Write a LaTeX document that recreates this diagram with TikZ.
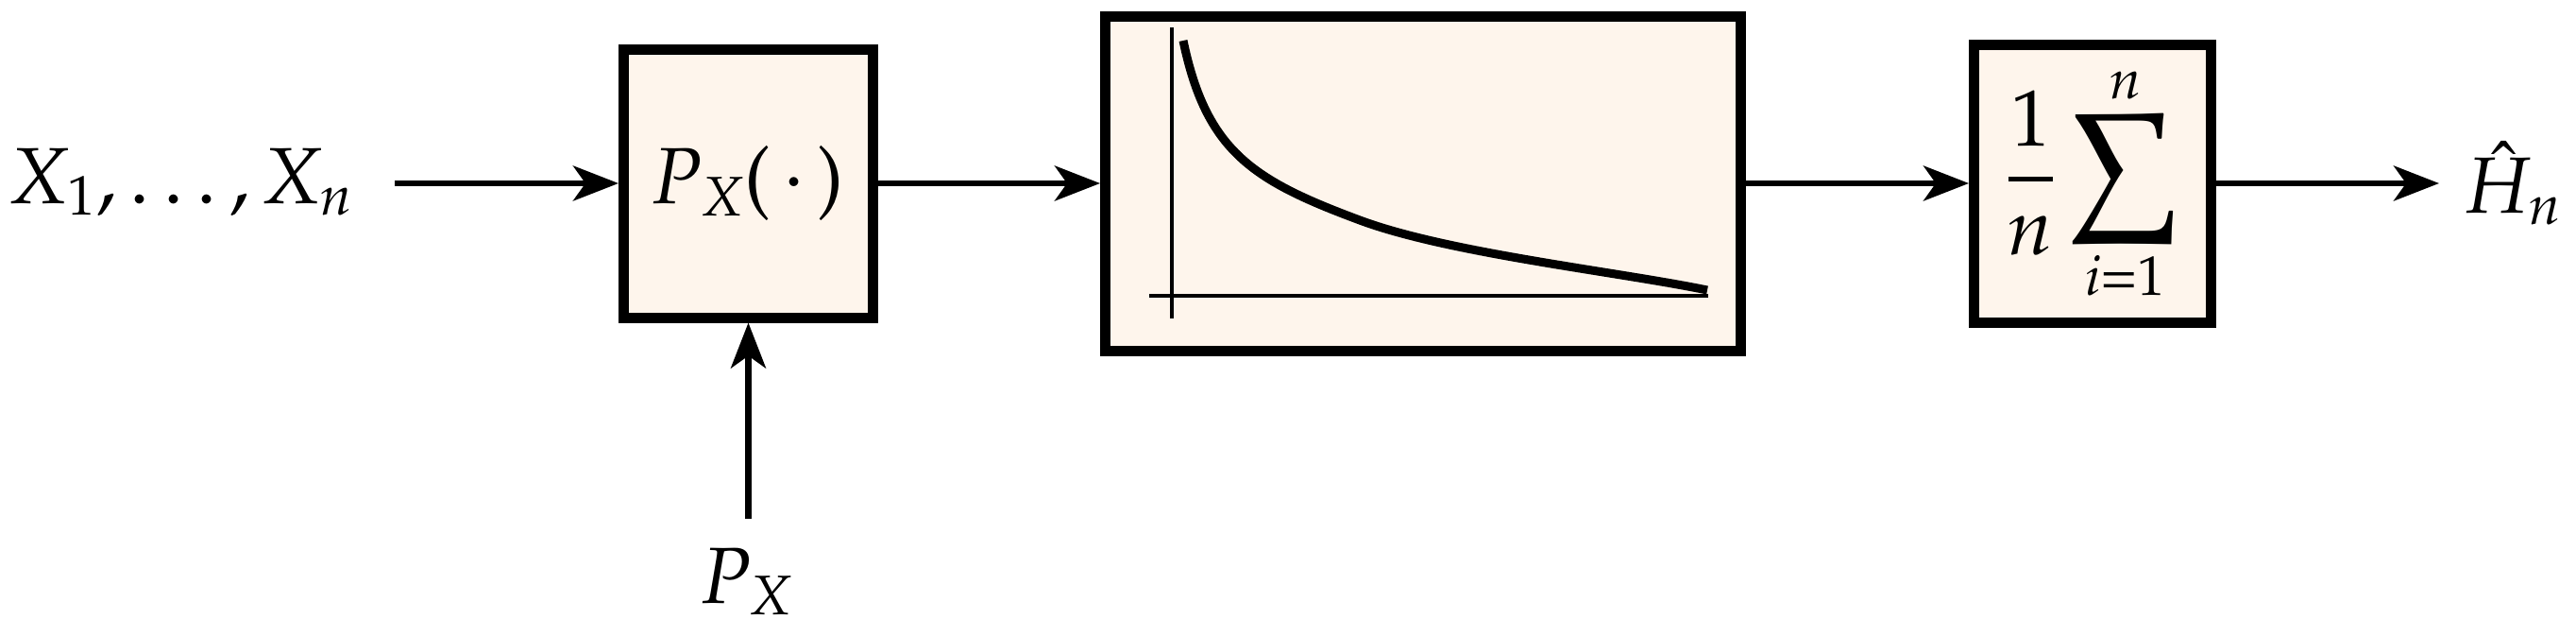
\documentclass[tikz,border=0pt]{standalone}
\usepackage{pxfonts}
\usetikzlibrary{arrows.meta}
\definecolor{boxfill}{RGB}{254,245,236}
\tikzset{
  blockbox/.style={draw=black, fill=boxfill, line width=0.11cm, rectangle, inner sep=0pt, outer sep=auto, font=\fontsize{24}{29}\selectfont},
  flow/.style={line width=0.063cm, -{Stealth[length=0.48cm, width=0.37cm, inset=0.13cm]}},
  lbl/.style={inner sep=0pt, anchor=base, font=\fontsize{24}{29}\selectfont},
  axisline/.style={line width=0.035cm},
  curveline/.style={line width=0.09cm, line cap=butt}
}
\begin{document}
\begin{tikzpicture}
\useasboundingbox (0,0) rectangle (27.28,6.72);
% boxes with their contents
\node[blockbox, minimum width=2.64cm, minimum height=2.83cm] (b1) at (7.925,4.775) {$P_X(\,\cdot\,)$};
\node[blockbox, minimum width=6.73cm, minimum height=3.54cm] (b2) at (15.07,4.775) {};
\node[blockbox, minimum width=2.51cm, minimum height=2.94cm] (b3) at (22.16,4.775) {$\displaystyle\frac{1}{n}\sum_{i=1}^{n}$};
% plot inside box 2
\draw[axisline] (12.41,6.43) -- (12.41,3.35);
\draw[axisline] (12.17,3.59) -- (18.09,3.59);
\draw[curveline] (12.53,6.29) .. controls (12.775,5.115) and (13.27,4.81) .. (14.40,4.39)
                 .. controls (15.34,4.04) and (17.10,3.85) .. (18.08,3.65);
% outer labels
\node[lbl, anchor=base west] (xin) at (0.10,4.57) {$X_1,\ldots,X_n$};
\node[lbl] (pxl) at (7.915,0.34) {$P_X$};
\node[lbl, anchor=base west] (hout) at (26.12,4.47) {$\hat{H}_n$};
% connector ends
\coordinate (inS) at (4.18,4.78);
\coordinate (pxS) at (7.925,1.23);
\coordinate (outE) at (25.83,4.78);
% connectors
\draw[flow] (inS) -- (inS -| b1.west);
\draw[flow] (pxS) -- (b1.south);
\draw[flow] (b1.east |- inS) -- (b2.west |- inS);
\draw[flow] (b2.east |- inS) -- (b3.west |- inS);
\draw[flow] (b3.east |- inS) -- (outE);
\end{tikzpicture}
\end{document}
